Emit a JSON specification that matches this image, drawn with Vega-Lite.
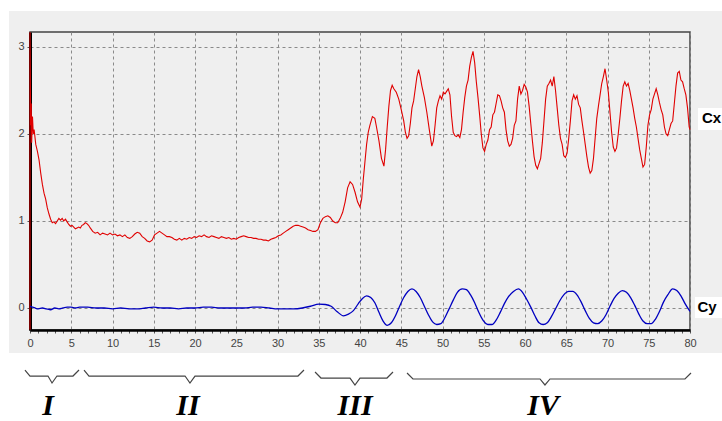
{
  "$schema": "https://vega.github.io/schema/vega-lite/v6.json",
  "width": 660,
  "height": 298,
  "autosize": {"type": "none"},
  "padding": {"left": 30, "top": 32, "right": 32, "bottom": 91},
  "background": "#efefef",
  "view": {"fill": "#efefef", "stroke": "#444444", "strokeWidth": 1.5},
  "datasets": {
    "cx": [
      {"t":0,"v":-0.25},{"t":0,"v":3.17},{"t":0.05,"v":2.5},{"t":0.1,"v":2.1},{"t":0.15,"v":2.35},{"t":0.2,"v":1.9},{"t":0.3,"v":2.2},{"t":0.4,"v":2.0},{"t":0.5,"v":2.05},{"t":0.7,"v":1.88},{"t":0.9,"v":1.8},{"t":1.1,"v":1.7},{"t":1.3,"v":1.55},{"t":1.5,"v":1.42},{"t":1.7,"v":1.32},{"t":1.9,"v":1.25},{"t":2.1,"v":1.15},{"t":2.3,"v":1.08},{"t":2.5,"v":1.02},{"t":2.7,"v":0.98},{"t":2.9,"v":0.99},{"t":3.1,"v":0.97},{"t":3.3,"v":1.0},{"t":3.5,"v":1.03},{"t":3.7,"v":1.01},{"t":3.9,"v":1.03},{"t":4.1,"v":1.0},{"t":4.3,"v":1.02},{"t":4.5,"v":0.99},{"t":4.7,"v":0.96},{"t":4.9,"v":0.94},{"t":5.1,"v":0.95},{"t":5.3,"v":0.93},{"t":5.5,"v":0.91},{"t":5.7,"v":0.92},{"t":5.9,"v":0.93},{"t":6.1,"v":0.92},{"t":6.3,"v":0.95},{"t":6.5,"v":0.96},{"t":6.7,"v":0.98},{"t":6.9,"v":0.97},{"t":7.1,"v":0.95},{"t":7.3,"v":0.92},{"t":7.6,"v":0.88},{"t":7.9,"v":0.86},{"t":8.2,"v":0.87},{"t":8.5,"v":0.84},{"t":8.8,"v":0.86},{"t":9.1,"v":0.85},{"t":9.4,"v":0.84},{"t":9.7,"v":0.86},{"t":10.0,"v":0.84},{"t":10.3,"v":0.85},{"t":10.6,"v":0.83},{"t":10.9,"v":0.84},{"t":11.2,"v":0.82},{"t":11.5,"v":0.84},{"t":11.8,"v":0.81},{"t":12.1,"v":0.8},{"t":12.4,"v":0.82},{"t":12.7,"v":0.85},{"t":13.0,"v":0.87},{"t":13.3,"v":0.86},{"t":13.6,"v":0.82},{"t":13.9,"v":0.8},{"t":14.2,"v":0.77},{"t":14.5,"v":0.76},{"t":14.8,"v":0.78},{"t":15.1,"v":0.84},{"t":15.4,"v":0.86},{"t":15.7,"v":0.88},{"t":16.0,"v":0.86},{"t":16.3,"v":0.84},{"t":16.6,"v":0.82},{"t":16.9,"v":0.82},{"t":17.2,"v":0.81},{"t":17.5,"v":0.79},{"t":17.8,"v":0.78},{"t":18.1,"v":0.8},{"t":18.4,"v":0.78},{"t":18.7,"v":0.8},{"t":19.0,"v":0.79},{"t":19.3,"v":0.81},{"t":19.6,"v":0.8},{"t":19.9,"v":0.82},{"t":20.2,"v":0.81},{"t":20.5,"v":0.83},{"t":20.8,"v":0.82},{"t":21.1,"v":0.84},{"t":21.4,"v":0.82},{"t":21.7,"v":0.81},{"t":22.0,"v":0.83},{"t":22.3,"v":0.82},{"t":22.6,"v":0.81},{"t":22.9,"v":0.8},{"t":23.2,"v":0.82},{"t":23.5,"v":0.81},{"t":23.8,"v":0.8},{"t":24.1,"v":0.81},{"t":24.4,"v":0.79},{"t":24.7,"v":0.8},{"t":25.0,"v":0.79},{"t":25.3,"v":0.81},{"t":25.6,"v":0.82},{"t":25.9,"v":0.83},{"t":26.2,"v":0.82},{"t":26.5,"v":0.81},{"t":26.8,"v":0.81},{"t":27.1,"v":0.8},{"t":27.4,"v":0.8},{"t":27.7,"v":0.79},{"t":28.0,"v":0.79},{"t":28.3,"v":0.78},{"t":28.6,"v":0.78},{"t":28.9,"v":0.77},{"t":29.2,"v":0.79},{"t":29.5,"v":0.8},{"t":29.8,"v":0.81},{"t":30.1,"v":0.83},{"t":30.4,"v":0.84},{"t":30.7,"v":0.86},{"t":31.0,"v":0.88},{"t":31.3,"v":0.9},{"t":31.6,"v":0.92},{"t":31.9,"v":0.94},{"t":32.2,"v":0.95},{"t":32.5,"v":0.95},{"t":32.8,"v":0.94},{"t":33.1,"v":0.93},{"t":33.4,"v":0.92},{"t":33.7,"v":0.9},{"t":34.0,"v":0.89},{"t":34.3,"v":0.88},{"t":34.6,"v":0.88},{"t":34.9,"v":0.9},{"t":35.2,"v":0.98},{"t":35.5,"v":1.03},{"t":35.8,"v":1.05},{"t":36.1,"v":1.06},{"t":36.4,"v":1.04},{"t":36.7,"v":1.0},{"t":37.0,"v":0.98},{"t":37.3,"v":0.98},{"t":37.6,"v":1.03},{"t":37.9,"v":1.1},{"t":38.2,"v":1.22},{"t":38.5,"v":1.38},{"t":38.8,"v":1.45},{"t":39.1,"v":1.42},{"t":39.4,"v":1.33},{"t":39.7,"v":1.22},{"t":40.0,"v":1.16},{"t":40.2,"v":1.25},{"t":40.4,"v":1.48},{"t":40.6,"v":1.68},{"t":40.8,"v":1.88},{"t":41.0,"v":2.02},{"t":41.2,"v":2.1},{"t":41.5,"v":2.2},{"t":41.8,"v":2.18},{"t":42.0,"v":2.08},{"t":42.3,"v":1.92},{"t":42.6,"v":1.72},{"t":42.9,"v":1.63},{"t":43.1,"v":1.82},{"t":43.3,"v":2.08},{"t":43.5,"v":2.32},{"t":43.7,"v":2.5},{"t":43.9,"v":2.56},{"t":44.1,"v":2.52},{"t":44.4,"v":2.48},{"t":44.7,"v":2.4},{"t":45.0,"v":2.28},{"t":45.3,"v":2.15},{"t":45.5,"v":2.02},{"t":45.7,"v":1.95},{"t":45.9,"v":1.98},{"t":46.1,"v":2.12},{"t":46.3,"v":2.3},{"t":46.5,"v":2.38},{"t":46.7,"v":2.52},{"t":46.9,"v":2.66},{"t":47.1,"v":2.74},{"t":47.3,"v":2.66},{"t":47.5,"v":2.55},{"t":47.8,"v":2.42},{"t":48.1,"v":2.25},{"t":48.4,"v":2.05},{"t":48.7,"v":1.86},{"t":48.9,"v":1.92},{"t":49.1,"v":2.1},{"t":49.3,"v":2.3},{"t":49.5,"v":2.38},{"t":49.7,"v":2.44},{"t":49.9,"v":2.4},{"t":50.1,"v":2.48},{"t":50.3,"v":2.46},{"t":50.5,"v":2.49},{"t":50.7,"v":2.52},{"t":50.9,"v":2.45},{"t":51.1,"v":2.2},{"t":51.3,"v":2.02},{"t":51.5,"v":1.98},{"t":51.7,"v":1.97},{"t":51.9,"v":1.99},{"t":52.1,"v":1.96},{"t":52.3,"v":2.05},{"t":52.5,"v":2.25},{"t":52.7,"v":2.42},{"t":52.9,"v":2.55},{"t":53.1,"v":2.62},{"t":53.3,"v":2.78},{"t":53.5,"v":2.88},{"t":53.7,"v":2.95},{"t":53.9,"v":2.82},{"t":54.1,"v":2.6},{"t":54.3,"v":2.42},{"t":54.5,"v":2.22},{"t":54.7,"v":2.0},{"t":54.9,"v":1.84},{"t":55.1,"v":1.8},{"t":55.3,"v":1.88},{"t":55.5,"v":1.93},{"t":55.7,"v":2.05},{"t":55.9,"v":2.08},{"t":56.1,"v":2.22},{"t":56.3,"v":2.25},{"t":56.5,"v":2.35},{"t":56.7,"v":2.45},{"t":56.9,"v":2.44},{"t":57.1,"v":2.38},{"t":57.3,"v":2.3},{"t":57.5,"v":2.25},{"t":57.7,"v":2.05},{"t":57.9,"v":1.92},{"t":58.1,"v":1.86},{"t":58.3,"v":1.88},{"t":58.5,"v":1.95},{"t":58.7,"v":2.1},{"t":58.9,"v":2.15},{"t":59.1,"v":2.4},{"t":59.3,"v":2.55},{"t":59.5,"v":2.46},{"t":59.7,"v":2.5},{"t":59.9,"v":2.57},{"t":60.1,"v":2.54},{"t":60.3,"v":2.48},{"t":60.5,"v":2.32},{"t":60.7,"v":2.12},{"t":60.9,"v":1.92},{"t":61.1,"v":1.74},{"t":61.3,"v":1.64},{"t":61.5,"v":1.6},{"t":61.7,"v":1.66},{"t":61.9,"v":1.72},{"t":62.1,"v":1.9},{"t":62.3,"v":2.15},{"t":62.5,"v":2.4},{"t":62.7,"v":2.55},{"t":62.9,"v":2.58},{"t":63.1,"v":2.62},{"t":63.3,"v":2.55},{"t":63.5,"v":2.66},{"t":63.7,"v":2.5},{"t":63.9,"v":2.3},{"t":64.1,"v":2.1},{"t":64.3,"v":1.95},{"t":64.5,"v":1.88},{"t":64.7,"v":1.75},{"t":64.9,"v":1.73},{"t":65.1,"v":1.78},{"t":65.3,"v":1.95},{"t":65.5,"v":2.15},{"t":65.7,"v":2.38},{"t":65.9,"v":2.45},{"t":66.1,"v":2.4},{"t":66.3,"v":2.44},{"t":66.5,"v":2.34},{"t":66.7,"v":2.3},{"t":66.9,"v":2.15},{"t":67.1,"v":2.02},{"t":67.3,"v":1.88},{"t":67.5,"v":1.74},{"t":67.7,"v":1.62},{"t":67.9,"v":1.55},{"t":68.1,"v":1.58},{"t":68.3,"v":1.72},{"t":68.5,"v":1.95},{"t":68.7,"v":2.18},{"t":68.9,"v":2.32},{"t":69.1,"v":2.45},{"t":69.3,"v":2.58},{"t":69.5,"v":2.66},{"t":69.7,"v":2.75},{"t":69.9,"v":2.62},{"t":70.1,"v":2.48},{"t":70.3,"v":2.25},{"t":70.5,"v":2.02},{"t":70.7,"v":1.85},{"t":70.9,"v":1.8},{"t":71.1,"v":1.84},{"t":71.3,"v":2.0},{"t":71.5,"v":2.18},{"t":71.7,"v":2.38},{"t":71.9,"v":2.55},{"t":72.1,"v":2.6},{"t":72.3,"v":2.55},{"t":72.5,"v":2.58},{"t":72.7,"v":2.5},{"t":72.9,"v":2.4},{"t":73.1,"v":2.3},{"t":73.3,"v":2.18},{"t":73.5,"v":2.08},{"t":73.7,"v":1.95},{"t":73.9,"v":1.82},{"t":74.1,"v":1.72},{"t":74.3,"v":1.62},{"t":74.5,"v":1.65},{"t":74.7,"v":1.85},{"t":74.9,"v":2.1},{"t":75.1,"v":2.22},{"t":75.3,"v":2.28},{"t":75.5,"v":2.4},{"t":75.7,"v":2.46},{"t":75.9,"v":2.52},{"t":76.1,"v":2.45},{"t":76.3,"v":2.36},{"t":76.5,"v":2.28},{"t":76.7,"v":2.22},{"t":76.9,"v":2.08},{"t":77.1,"v":2.0},{"t":77.3,"v":1.98},{"t":77.5,"v":2.05},{"t":77.7,"v":2.12},{"t":77.9,"v":2.15},{"t":78.1,"v":2.35},{"t":78.3,"v":2.55},{"t":78.5,"v":2.7},{"t":78.7,"v":2.72},{"t":78.9,"v":2.62},{"t":79.1,"v":2.6},{"t":79.3,"v":2.52},{"t":79.5,"v":2.45},{"t":79.7,"v":2.3},{"t":79.9,"v":2.08},{"t":80.0,"v":2.05}
    ],
    "cy": [
      {"t":0,"v":0.02},{"t":0.3,"v":0.01},{"t":0.6,"v":0.0},{"t":1,"v":-0.01},{"t":1.5,"v":0.0},{"t":2,"v":-0.01},{"t":2.5,"v":-0.02},{"t":3,"v":0.0},{"t":3.5,"v":-0.01},{"t":4,"v":0.0},{"t":4.5,"v":0.01},{"t":5,"v":0.01},{"t":5.5,"v":0.0},{"t":6,"v":0.01},{"t":7,"v":0.01},{"t":8,"v":0.0},{"t":9,"v":0.0},{"t":10,"v":-0.01},{"t":11,"v":0.0},{"t":12,"v":-0.01},{"t":13,"v":-0.01},{"t":14,"v":0.0},{"t":15,"v":0.01},{"t":16,"v":0.0},{"t":17,"v":0.0},{"t":18,"v":-0.01},{"t":19,"v":0.0},{"t":20,"v":0.0},{"t":21,"v":0.01},{"t":22,"v":0.01},{"t":23,"v":0.0},{"t":24,"v":0.0},{"t":25,"v":0.0},{"t":26,"v":0.0},{"t":27,"v":0.01},{"t":28,"v":0.01},{"t":29,"v":0.0},{"t":30,"v":-0.01},{"t":31,"v":-0.01},{"t":32,"v":-0.01},{"t":33,"v":0.0},{"t":34,"v":0.02},{"t":35,"v":0.045},{"t":35.8,"v":0.04},{"t":36.5,"v":0.02},{"t":37.2,"v":-0.04},{"t":38.0,"v":-0.09},{"t":38.6,"v":-0.07},{"t":39.2,"v":-0.03},{"t":39.8,"v":0.05},{"t":40.3,"v":0.11},{"t":40.8,"v":0.14},{"t":41.3,"v":0.12},{"t":41.8,"v":0.06},{"t":42.3,"v":-0.05},{"t":42.8,"v":-0.15},{"t":43.3,"v":-0.2},{"t":43.8,"v":-0.17},{"t":44.3,"v":-0.09},{"t":44.8,"v":0.02},{"t":45.3,"v":0.12},{"t":45.8,"v":0.19},{"t":46.3,"v":0.22},{"t":46.8,"v":0.19},{"t":47.3,"v":0.12},{"t":47.8,"v":0.02},{"t":48.3,"v":-0.08},{"t":48.8,"v":-0.16},{"t":49.3,"v":-0.19},{"t":49.8,"v":-0.18},{"t":50.3,"v":-0.11},{"t":50.8,"v":-0.01},{"t":51.3,"v":0.09},{"t":51.8,"v":0.18},{"t":52.4,"v":0.22},{"t":52.9,"v":0.21},{"t":53.4,"v":0.15},{"t":53.9,"v":0.06},{"t":54.4,"v":-0.05},{"t":54.9,"v":-0.14},{"t":55.5,"v":-0.19},{"t":56.0,"v":-0.19},{"t":56.5,"v":-0.14},{"t":57.0,"v":-0.05},{"t":57.5,"v":0.05},{"t":58.0,"v":0.13},{"t":58.6,"v":0.19},{"t":59.2,"v":0.22},{"t":59.7,"v":0.18},{"t":60.2,"v":0.1},{"t":60.7,"v":0.01},{"t":61.2,"v":-0.09},{"t":61.7,"v":-0.17},{"t":62.2,"v":-0.19},{"t":62.7,"v":-0.17},{"t":63.2,"v":-0.1},{"t":63.7,"v":-0.01},{"t":64.2,"v":0.08},{"t":64.7,"v":0.15},{"t":65.3,"v":0.19},{"t":65.8,"v":0.19},{"t":66.3,"v":0.15},{"t":66.8,"v":0.07},{"t":67.3,"v":-0.03},{"t":67.8,"v":-0.12},{"t":68.3,"v":-0.17},{"t":68.8,"v":-0.18},{"t":69.3,"v":-0.15},{"t":69.8,"v":-0.08},{"t":70.3,"v":0.02},{"t":70.8,"v":0.11},{"t":71.3,"v":0.17},{"t":71.8,"v":0.2},{"t":72.3,"v":0.18},{"t":72.8,"v":0.12},{"t":73.3,"v":0.03},{"t":73.8,"v":-0.07},{"t":74.3,"v":-0.15},{"t":74.8,"v":-0.18},{"t":75.3,"v":-0.18},{"t":75.8,"v":-0.13},{"t":76.3,"v":-0.04},{"t":76.8,"v":0.07},{"t":77.3,"v":0.15},{"t":77.9,"v":0.22},{"t":78.4,"v":0.2},{"t":78.9,"v":0.14},{"t":79.4,"v":0.05},{"t":80.0,"v":-0.04}
    ],
    "braces": [
      {"stage":"I","o":1,"t":-0.61,"v":-0.713},{"stage":"I","o":2,"t":0.0,"v":-0.782},{"stage":"I","o":3,"t":2.18,"v":-0.782},{"stage":"I","o":4,"t":2.67,"v":-0.862},{"stage":"I","o":5,"t":3.27,"v":-0.782},{"stage":"I","o":6,"t":5.21,"v":-0.782},{"stage":"I","o":7,"t":5.94,"v":-0.713},
      {"stage":"II","o":1,"t":6.55,"v":-0.713},{"stage":"II","o":2,"t":7.15,"v":-0.782},{"stage":"II","o":3,"t":18.79,"v":-0.782},{"stage":"II","o":4,"t":19.39,"v":-0.862},{"stage":"II","o":5,"t":20.0,"v":-0.782},{"stage":"II","o":6,"t":32.48,"v":-0.782},{"stage":"II","o":7,"t":33.21,"v":-0.713},
      {"stage":"III","o":1,"t":34.55,"v":-0.736},{"stage":"III","o":2,"t":35.27,"v":-0.805},{"stage":"III","o":3,"t":38.79,"v":-0.805},{"stage":"III","o":4,"t":39.39,"v":-0.885},{"stage":"III","o":5,"t":40.0,"v":-0.805},{"stage":"III","o":6,"t":43.27,"v":-0.805},{"stage":"III","o":7,"t":44.0,"v":-0.736},
      {"stage":"IV","o":1,"t":45.7,"v":-0.747},{"stage":"IV","o":2,"t":46.42,"v":-0.816},{"stage":"IV","o":3,"t":61.82,"v":-0.816},{"stage":"IV","o":4,"t":62.42,"v":-0.885},{"stage":"IV","o":5,"t":63.03,"v":-0.816},{"stage":"IV","o":6,"t":79.39,"v":-0.816},{"stage":"IV","o":7,"t":80.12,"v":-0.747}
    ],
    "stages": [
      {"stage":"I","t":2.18,"v":-1.295},
      {"stage":"II","t":19.15,"v":-1.295},
      {"stage":"III","t":39.4,"v":-1.295},
      {"stage":"IV","t":62.2,"v":-1.295}
    ],
    "names": [
      {"name":"Cx","t":81.45,"v":2.18},
      {"name":"Cy","t":80.9,"v":0.01}
    ],
    "boxes": [
      {"t":80.97,"t2":90,"v":2.046,"v2":2.299},
      {"t":80.6,"t2":90,"v":-0.115,"v2":0.126},
      {"t":-6,"t2":-2.545,"v":-2,"v2":4},
      {"t":-6,"t2":90,"v":3.414,"v2":4},
      {"t":-6,"t2":90,"v":-2,"v2":-0.517}
    ]
  },
  "encoding": {
    "x": {
      "field": "t", "type": "quantitative",
      "scale": {"domain": [0, 80], "nice": false, "zero": false},
      "axis": {
        "title": null,
        "values": [0,1,2,3,4,5,6,7,8,9,10,11,12,13,14,15,16,17,18,19,20,21,22,23,24,25,26,27,28,29,30,31,32,33,34,35,36,37,38,39,40,41,42,43,44,45,46,47,48,49,50,51,52,53,54,55,56,57,58,59,60,61,62,63,64,65,66,67,68,69,70,71,72,73,74,75,76,77,78,79,80],
        "labelExpr": "datum.value % 5 === 0 ? datum.label : ''",
        "labelOverlap": false,
        "labelFlush": false,
        "gridDash": [3, 3],
        "gridColor": "#8a8a8a",
        "gridOpacity": {"condition": {"test": "datum.value % 5 === 0", "value": 1}, "value": 0},
        "tickSize": 3,
        "tickColor": "#555555",
        "domainColor": "#000000",
        "domainWidth": 2.5,
        "labelFont": "Liberation Sans",
        "labelFontSize": 11,
        "labelColor": "#444444",
        "labelPadding": 4
      }
    },
    "y": {
      "field": "v", "type": "quantitative",
      "scale": {"domain": [-0.253, 3.172], "nice": false, "zero": false},
      "axis": {
        "title": null,
        "values": [0, 1, 2, 3],
        "gridDash": [3, 3],
        "gridColor": "#8a8a8a",
        "tickSize": 3,
        "tickColor": "#555555",
        "domainColor": "#000000",
        "domainWidth": 3,
        "labelFont": "Liberation Sans",
        "labelFontSize": 11,
        "labelColor": "#444444",
        "labelPadding": 3
      }
    }
  },
  "layer": [
    {
      "data": {"name": "boxes"},
      "mark": {"type": "rect", "fill": "#ffffff", "fillOpacity": 1, "strokeWidth": 0},
      "encoding": {"x2": {"field": "t2"}, "y2": {"field": "v2"}}
    },
    {
      "data": {"name": "cx"},
      "mark": {"type": "line", "color": "#e00000", "strokeWidth": 1.1}
    },
    {
      "data": {"name": "cy"},
      "mark": {"type": "line", "color": "#0000c0", "strokeWidth": 1.3, "interpolate": "monotone"}
    },
    {
      "data": {"name": "names"},
      "mark": {"type": "text", "align": "left", "baseline": "middle", "font": "Liberation Sans", "fontWeight": "bold", "fontSize": 15, "color": "#000000"},
      "encoding": {"text": {"field": "name"}}
    },
    {
      "data": {"name": "braces"},
      "mark": {"type": "line", "color": "#444444", "strokeWidth": 1.2},
      "encoding": {"detail": {"field": "stage"}, "order": {"field": "o", "type": "quantitative"}}
    },
    {
      "data": {"name": "stages"},
      "mark": {"type": "text", "align": "center", "baseline": "bottom", "font": "Liberation Serif", "fontStyle": "italic", "fontWeight": "bold", "fontSize": 30, "color": "#000000"},
      "encoding": {"text": {"field": "stage"}}
    }
  ]
}
